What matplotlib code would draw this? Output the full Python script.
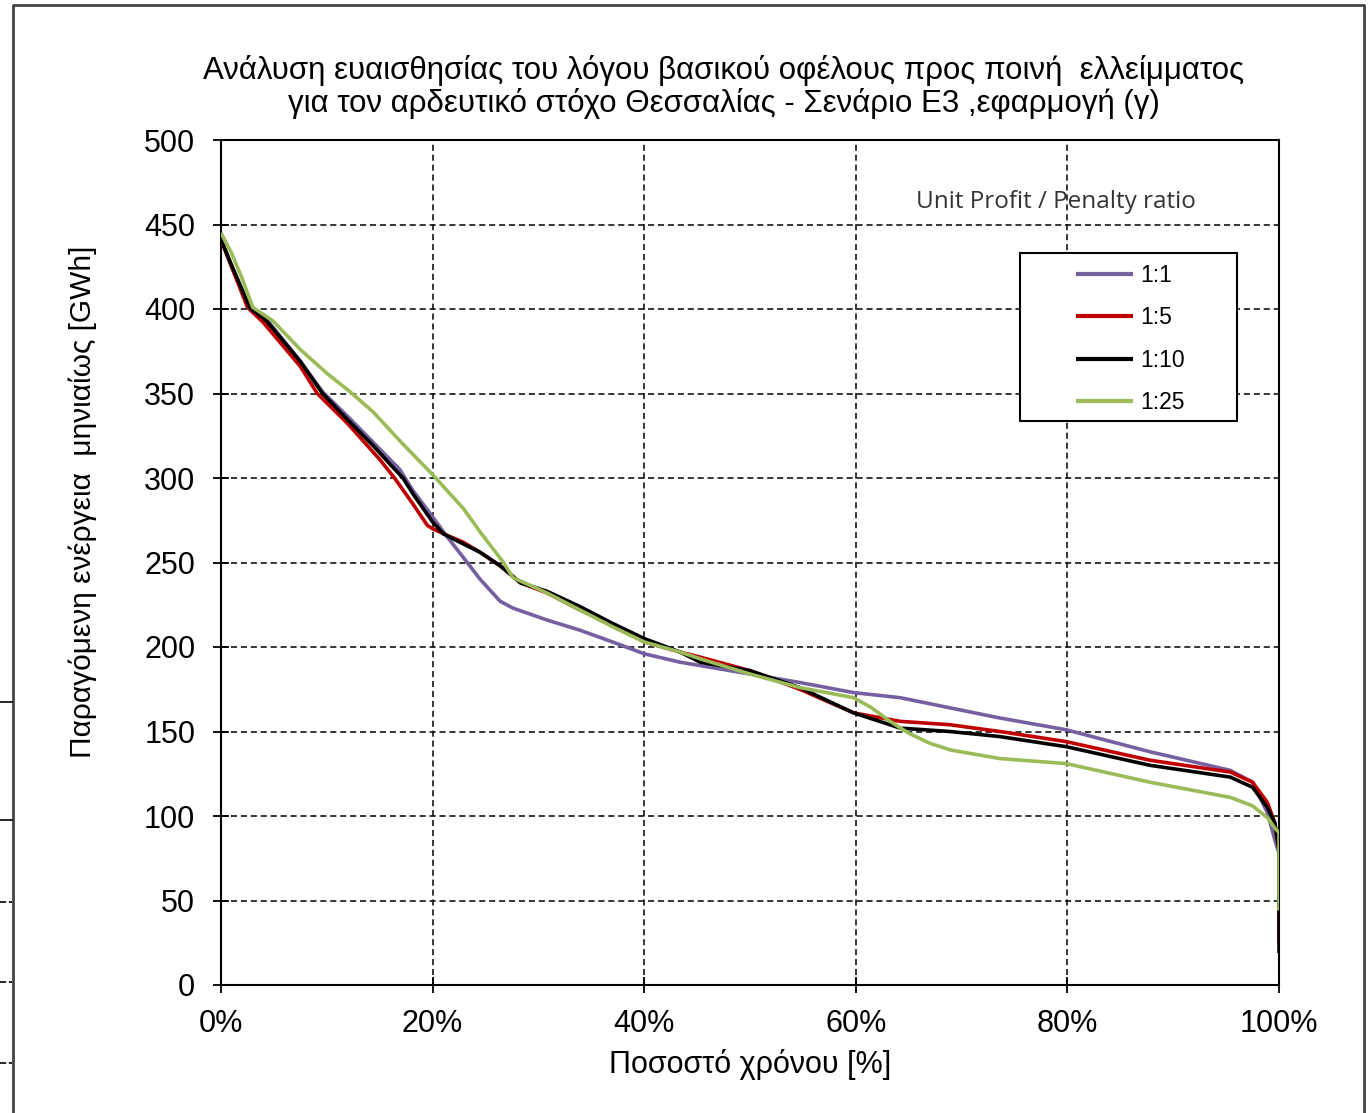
import matplotlib
matplotlib.use("Agg")
import matplotlib.pyplot as plt
from matplotlib.lines import Line2D
from matplotlib.patches import Rectangle
from matplotlib.ticker import FuncFormatter

plt.rcParams['font.family'] = ['Liberation Sans', 'DejaVu Sans']

# ---------------- data (percent of time, GWh) ----------------
x_11 = [0, 1, 2.7, 4.3, 7.5, 9.6, 12.2, 14.4, 16.9, 18.1, 20, 21.4, 22.9, 24.5, 26.4,
        27.6, 30.8, 33.9, 37, 40, 43.4, 45.3, 50, 54.7, 59.8, 64.2, 68.9, 73.6, 79.9,
        87.8, 95.4, 97.5, 98.9, 99.6, 100]
y_11 = [441, 425, 401, 394, 369, 351, 335, 321, 305, 293, 277, 265, 253, 240, 227,
        223, 216, 210, 203, 196, 191, 189, 184, 179, 173, 170, 164, 158, 151,
        138, 127, 120, 102, 86, 78]

x_15 = [0, 1, 2.5, 4, 7.5, 9.1, 12, 15, 16.4, 18.1, 19.5, 20, 21.4, 22.9, 24.5, 26.4,
        28.3, 30.8, 33.9, 37, 40, 43.4, 45.3, 50, 54.7, 59.8, 64.2, 68.9, 73.6, 79.9,
        87.8, 95.4, 97.5, 98.9, 99.6, 100, 100]
y_15 = [441, 425, 401, 392, 366, 350, 332, 311, 300, 285, 272, 270, 266, 262, 256, 248,
        238, 232, 222, 213, 203, 197, 194, 186, 175, 161, 156, 154, 150, 144,
        133, 126, 120, 108, 96, 80, 25]

x_110 = [0, 1, 2.7, 4.3, 7.5, 9.6, 12.2, 14.4, 16, 17.2, 18.1, 20, 21, 22.9, 24.5, 26.4,
         28.3, 30.8, 33.9, 37, 40, 43.4, 45.3, 50, 54.7, 59.8, 64.2, 68.9, 73.6, 79.9,
         87.8, 95.4, 97.5, 98.9, 99.6, 100, 100]
y_110 = [441, 426, 401, 393, 369, 350, 333, 319, 308, 300, 291, 274, 267, 261, 256, 248,
         238, 233, 224, 214, 205, 197, 191, 186, 176, 161, 152, 150, 147, 141,
         130, 123, 117, 105, 96, 80, 19]

x_125 = [0, 1, 2, 3, 4.9, 7.5, 10, 12.2, 14.4, 16.9, 20, 22.9, 24.5, 26.7, 27.6, 30.8,
         33.9, 37, 40, 43.4, 45.3, 50, 54.7, 59.8, 61.5, 63, 65, 67, 69, 73.6, 79.9,
         87.8, 95.4, 97.5, 98.9, 99.6, 100, 100]
y_125 = [445, 433, 418, 401, 393, 376, 362, 351, 339, 322, 302, 282, 268, 250, 241, 232,
         222, 212, 203, 197, 193, 184, 176, 170, 164, 157, 149, 143, 139, 134, 131,
         120, 111, 106, 99, 93, 90, 44]

labels = ['1:1', '1:5', '1:10', '1:25']
colors = ['#7560A0', '#C00000', '#000000', '#9BBB59']
series = [(x_11, y_11), (x_15, y_15), (x_110, y_110), (x_125, y_125)]

x_ticks = [0, 20, 40, 60, 80, 100]
y_ticks = [0, 50, 100, 150, 200, 250, 300, 350, 400, 450, 500]

title = ("Ανάλυση ευαισθησίας του λόγου βασικού οφέλους προς ποινή  ελλείμματος\n"
         "για τον αρδευτικό στόχο Θεσσαλίας - Σενάριο Ε3 ,εφαρμογή (γ)")
xlabel = "Ποσοστό χρόνου [%]"
ylabel = "Παραγόμενη ενέργεια  μηνιαίως [GWh]"
legend_title = "Unit Profit / Penalty ratio"

# ---------------- figure ----------------
W, H = 1371, 1113
fig = plt.figure(figsize=(W / 100, H / 100), dpi=100)
ax = fig.add_axes([221 / W, 1 - 985 / H, (1279 - 221) / W, (985 - 140) / H])

handles = []
for (xs, ys), lab, c in zip(series, labels, colors):
    h, = ax.plot(xs, ys, color=c, lw=2.6, label=lab, solid_joinstyle='round',
                 solid_capstyle='butt', zorder=3)
    handles.append(h)

ax.set_xlim(0, 100)
ax.set_ylim(0, 500)
ax.set_xticks(x_ticks)
ax.set_yticks(y_ticks)
ax.xaxis.set_major_formatter(FuncFormatter(lambda v, p: f"{int(v)}%"))
ax.grid(True, color='black', linestyle=(0, (4, 2.5)), linewidth=1.1, zorder=1)
ax.tick_params(axis='both', direction='inout', length=11, width=1.3,
               labelsize=22, colors='black')
ax.tick_params(axis='y', pad=13)
ax.tick_params(axis='x', pad=12)
for s in ax.spines.values():
    s.set_linewidth(1.5)
    s.set_color('black')

ax.set_xlabel(xlabel, fontsize=22, labelpad=7)
ax.set_ylabel(ylabel, fontsize=21.5)
ax.yaxis.set_label_coords((97 - 221) / 1058, (985 - 502) / 845)
fig.text(724 / W, 1 - 87 / H, title, ha='center', va='center', fontsize=22.5,
         linespacing=1.1)

# legend
leg = ax.legend(handles=handles, labels=labels, loc='center',
                bbox_to_anchor=((1130 - 221) / 1058, (985 - 339) / 845),
                frameon=False, fontsize=16.5, handlelength=2.5, handletextpad=0.3,
                labelspacing=0.85)
for lh in leg.get_lines():
    lh.set_linewidth(3)
ax.add_patch(Rectangle(((1020 - 221) / 1058, (985 - 421) / 845),
                       (1237 - 1020) / 1058, (421 - 253) / 845,
                       transform=ax.transAxes, facecolor='white',
                       edgecolor='black', lw=1.5, zorder=4))
leg.set_zorder(5)
ax.text((1056 - 221) / 1058, (985 - 202) / 845, legend_title, transform=ax.transAxes,
        ha='center', va='center', fontsize=17.5, family=['Open Sans', 'DejaVu Sans'],
        color='#333333', zorder=2)

# outer frame and background artifacts
fig.add_artist(Line2D([13 / W, 13 / W, 1364 / W, 1364 / W],
                      [0, 1 - 5 / H, 1 - 5 / H, 0], transform=fig.transFigure,
                      color='#444444', lw=2))
for py, ls in [(702, '-'), (820, '-'), (902, '--'), (982, '--'), (1063, '--')]:
    fig.add_artist(Line2D([0, 12 / W], [1 - py / H, 1 - py / H],
                          transform=fig.transFigure, color='black', lw=1.2,
                          linestyle=ls))

fig.savefig('out.png', dpi=100, facecolor='white')
